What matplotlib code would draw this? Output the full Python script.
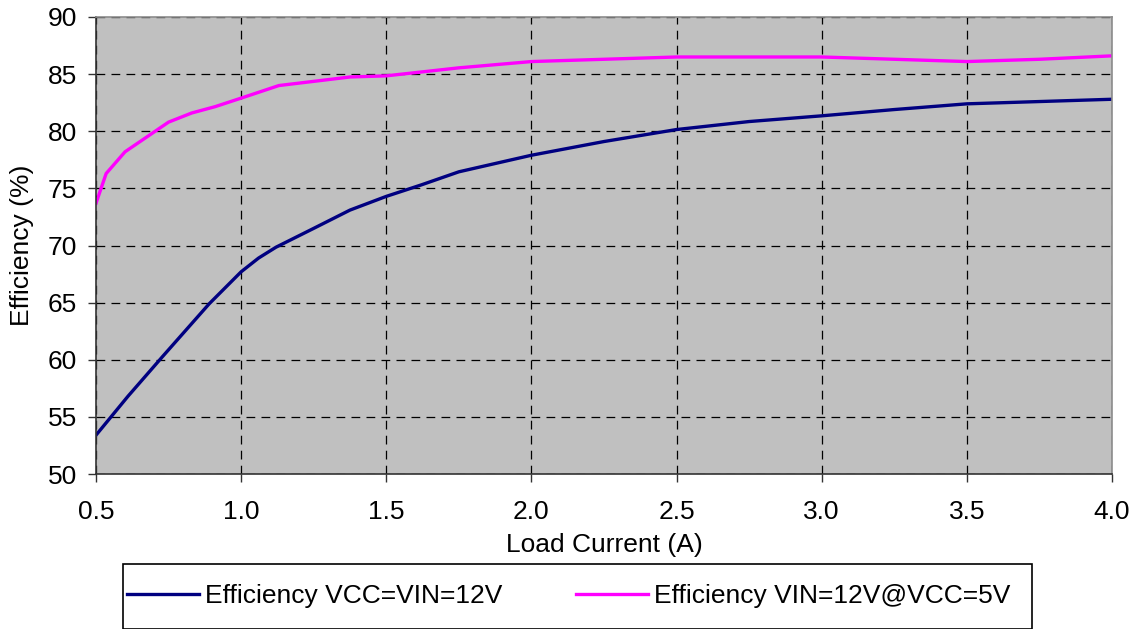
import matplotlib
matplotlib.use("Agg")
import matplotlib.pyplot as plt
from matplotlib.patches import Rectangle

plt.rcParams['font.family'] = ['Liberation Sans', 'DejaVu Sans']

# load current (A) and efficiency (%)
current_12v = [0.5, 0.61, 0.73, 0.81, 0.89, 1.0, 1.06, 1.12, 1.25, 1.375, 1.5,
               1.62, 1.75, 2.0, 2.25, 2.5, 2.75, 3.0, 3.25, 3.5, 4.0]
eff_12v = [53.4, 56.8, 60.3, 62.6, 64.9, 67.7, 68.9, 69.85, 71.5, 73.1, 74.3,
           75.3, 76.45, 77.9, 79.1, 80.15, 80.85, 81.35, 81.9, 82.4, 82.8]

current_5v = [0.5, 0.535, 0.6, 0.75, 0.83, 0.91, 1.0, 1.13, 1.375, 1.5, 1.75,
              2.0, 2.5, 3.0, 3.5, 3.75, 4.0]
eff_5v = [73.7, 76.3, 78.2, 80.8, 81.6, 82.15, 82.9, 84.0, 84.75, 84.85, 85.55,
          86.1, 86.5, 86.5, 86.1, 86.3, 86.6]

label_12v = 'Efficiency VCC=VIN=12V'
label_5v = 'Efficiency VIN=12V@VCC=5V'

fig = plt.figure(figsize=(11.38, 6.29), dpi=100)
ax = fig.add_axes([96 / 1138, 1 - 474 / 629, (1112 - 96) / 1138, (474 - 17) / 629])
ax.set_facecolor('#C0C0C0')

l1, = ax.plot(current_12v, eff_12v, color='#000080', lw=2.4, label=label_12v,
              solid_joinstyle='round')
l2, = ax.plot(current_5v, eff_5v, color='#FF00FF', lw=2.4, label=label_5v,
              solid_joinstyle='round')

ax.set_xlim(0.5, 4.0)
ax.set_ylim(50, 90)
ax.set_xticks([0.5, 1.0, 1.5, 2.0, 2.5, 3.0, 3.5, 4.0])
ax.set_xticklabels(['0.5', '1.0', '1.5', '2.0', '2.5', '3.0', '3.5', '4.0'])
ax.set_yticks(range(50, 91, 5))
ax.grid(True, color='black', linestyle=(0, (7, 5)), linewidth=0.9)
ax.set_axisbelow(True)
ax.tick_params(labelsize=19, direction='out', length=5.5, width=1, colors='#333333',
               labelcolor='black')
ax.tick_params(axis='x', pad=13)
ax.tick_params(axis='y', pad=8)

for side in ['left', 'bottom']:
    ax.spines[side].set_color('#333333')
    ax.spines[side].set_linewidth(1.2)
for side in ['top', 'right']:
    ax.spines[side].set_color('#8c8c8c')
    ax.spines[side].set_linewidth(1.2)

ax.set_xlabel('Load Current (A)', fontsize=19, labelpad=7)
ax.set_ylabel('Efficiency (%)', fontsize=19, labelpad=10)

# legend box below the chart
fig.patches.append(Rectangle((123 / 1138, 0), (1032 - 123) / 1138, (629 - 564) / 629,
                             transform=fig.transFigure, facecolor='white',
                             edgecolor='black', linewidth=1.2))
fig.legend(handles=[l1, l2], loc='center', bbox_to_anchor=(0.5, 1 - 596 / 629),
           ncol=2, frameon=False, fontsize=19, handlelength=2.7,
           handletextpad=0.25, columnspacing=2.8)

fig.savefig('out.png', dpi=100)
